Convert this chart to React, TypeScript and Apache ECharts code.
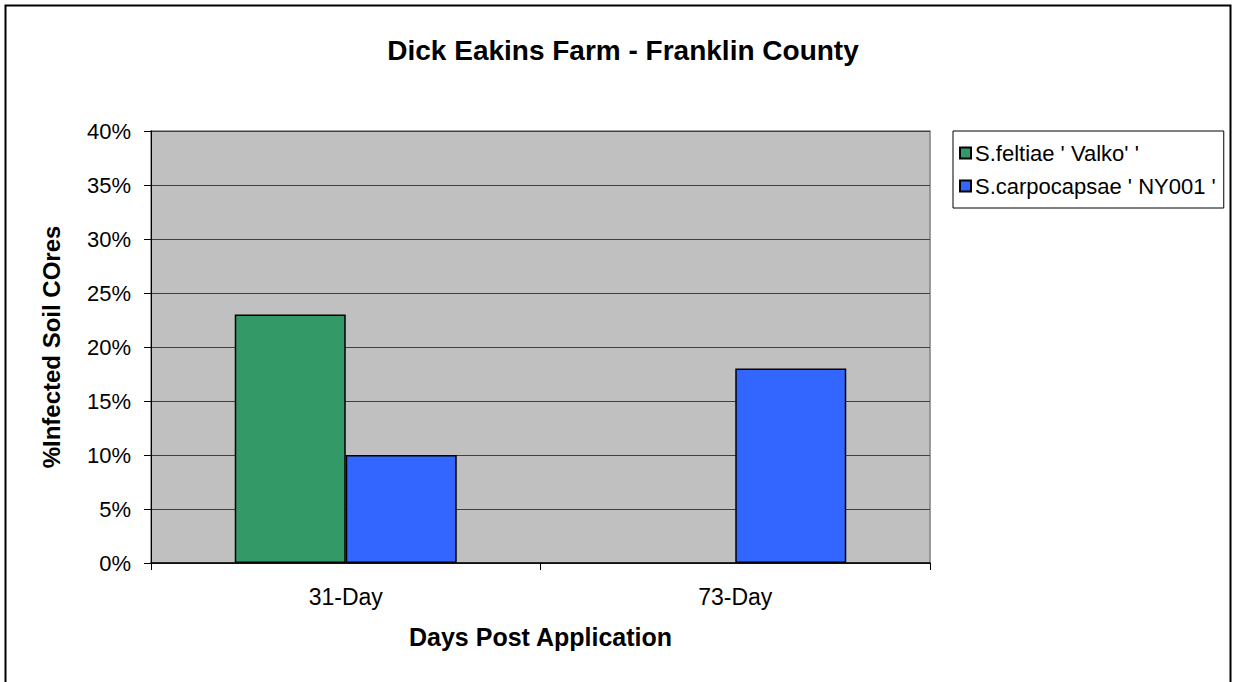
import React, { useEffect, useRef } from "react";
import * as echarts from "echarts";

const categories = ["31-Day", "73-Day"];
const feltiae = [23, null];
const carpocapsae = [10, 18];
const seriesNames = ["S.feltiae ' Valko' '", "S.carpocapsae ' NY001 '"];

export default function App() {
  const ref = useRef<HTMLDivElement>(null);
  useEffect(() => {
    if (!ref.current) return;
    const chart = echarts.init(ref.current, null, { renderer: "svg" });
    const font = "Arial, 'Liberation Sans', Helvetica, sans-serif";
    chart.setOption({
      animation: false,
      backgroundColor: "#ffffff",
      textStyle: { fontFamily: font },
      title: {
        text: "Dick Eakins Farm - Franklin County",
        left: 618,
        textAlign: "center",
        top: 31,
        textStyle: { fontSize: 28, fontWeight: "bold", color: "#000", fontFamily: font },
      },
      graphic: [
        {
          type: "rect",
          shape: { x: 5.5, y: 5.5, width: 1225, height: 700 },
          style: { fill: "none", stroke: "#000", lineWidth: 2 },
          silent: true,
        },
      ],
      legend: {
        orient: "vertical",
        left: 953,
        top: 131,
        padding: [11, 8, 11, 6],
        itemGap: 11,
        itemWidth: 11,
        itemHeight: 11,
        borderColor: "#000",
        borderWidth: 1,
        backgroundColor: "#fff",
        textStyle: { fontSize: 22, color: "#000", fontFamily: font, padding: [0, 0, 0, -1] },
        data: seriesNames.map((n) => ({ name: n, icon: "rect" })),
      },
      grid: {
        left: 151,
        top: 131,
        width: 779,
        height: 432,
        show: true,
        backgroundColor: "#C0C0C0",
        borderColor: "#808080",
        borderWidth: 1.5,
        containLabel: false,
      },
      xAxis: {
        type: "category",
        data: categories,
        name: "Days Post Application",
        nameLocation: "middle",
        nameGap: 61,
        nameTextStyle: { fontSize: 25, fontWeight: "bold", color: "#000" },
        axisLine: { show: true, lineStyle: { color: "#000", width: 1.5 } },
        axisTick: { show: true, inside: false, length: 7, lineStyle: { color: "#000" } },
        axisLabel: { fontSize: 23, color: "#000", margin: 22 },
      },
      yAxis: {
        type: "value",
        min: 0,
        max: 40,
        interval: 5,
        name: "%Infected Soil COres",
        nameLocation: "middle",
        nameGap: 88,
        nameTextStyle: { fontSize: 24, fontWeight: "bold", color: "#000" },
        axisLine: { show: true, lineStyle: { color: "#000", width: 1 } },
        axisTick: { show: true, inside: false, length: 7, lineStyle: { color: "#000" } },
        axisLabel: { fontSize: 22, color: "#000", margin: 20, formatter: "{value}%" },
        splitLine: { show: true, lineStyle: { color: "#404040", width: 1 } },
      },
      series: [
        {
          name: seriesNames[0],
          type: "bar",
          data: feltiae,
          barWidth: "28.5%",
          barGap: "0%",
          itemStyle: { color: "#339966", borderColor: "#000", borderWidth: 1.5 },
        },
        {
          name: seriesNames[1],
          type: "bar",
          data: carpocapsae,
          barWidth: "28.5%",
          barGap: "0%",
          itemStyle: { color: "#3366FF", borderColor: "#000", borderWidth: 1.5 },
        },
      ],
    });
    return () => chart.dispose();
  }, []);
  return (
    <div
      ref={ref}
      style={{ position: "fixed", left: 0, top: 0, width: 1233, height: 682 }}
    />
  );
}
